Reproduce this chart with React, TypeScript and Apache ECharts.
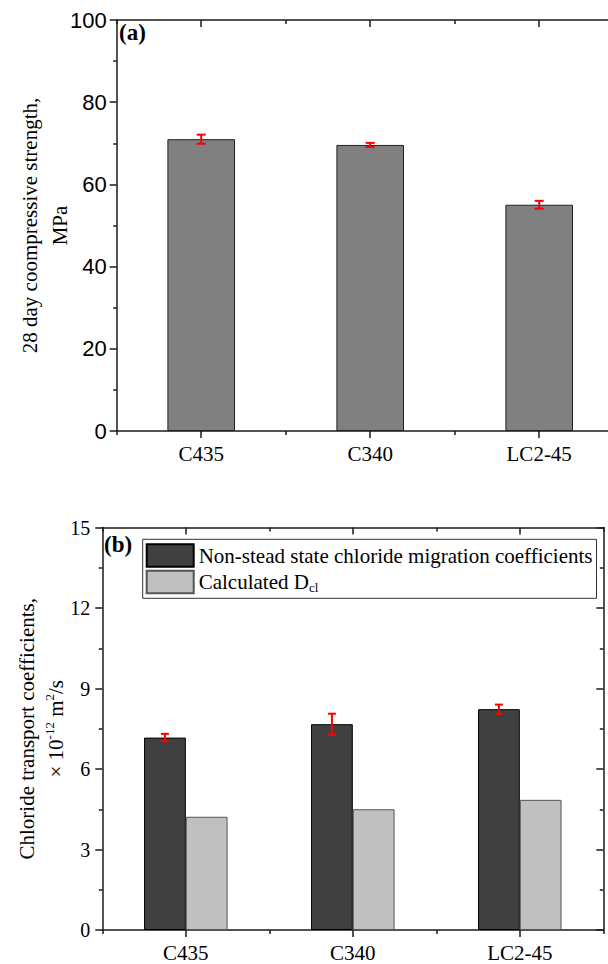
import React, { useEffect, useRef } from 'react';
import * as echarts from 'echarts';

const categories = ['C435', 'C340', 'LC2-45'];
const strength = [71.0, 69.6, 55.05];
const strengthErr = [1.1, 0.5, 0.95];
const nssm = [7.17, 7.67, 8.23];
const nssmErr = [0.14, 0.39, 0.17];
const dcl = [4.22, 4.5, 4.85];
const seriesNames = ['Non-stead state chloride migration coefficients', 'Calculated Dcl'];
const rangeA = { min: 0, max: 100, interval: 20 };
const rangeB = { min: 0, max: 15, interval: 3 };

const SERIF = "'Liberation Serif', 'Times New Roman', serif";
const SANS = "'Liberation Sans', Arial, sans-serif";
const AXIS_COLOR = '#1a1a1a';

function frameX(gridIndex: number, position: 'top' | 'bottom', major: boolean, withLine: boolean, withLabel: boolean) {
  return {
    type: 'category',
    gridIndex,
    position,
    data: categories,
    axisLine: { show: withLine, onZero: false, lineStyle: { color: AXIS_COLOR, width: 1.5 } },
    axisTick: {
      show: true,
      alignWithLabel: major,
      inside: position === 'top',
      length: major ? 7 : 4,
      lineStyle: { color: AXIS_COLOR, width: 1.5 },
    },
    axisLabel: {
      show: withLabel,
      fontFamily: SERIF,
      fontSize: 21,
      color: '#000',
      margin: 12,
    },
    splitLine: { show: false },
  };
}

function frameY(gridIndex: number, position: 'left' | 'right', range: any, label: any, name?: any) {
  return {
    type: 'value',
    gridIndex,
    position,
    min: range.min,
    max: range.max,
    interval: range.interval,
    axisLine: { show: true, onZero: false, lineStyle: { color: AXIS_COLOR, width: 1.5 } },
    axisTick: { show: true, inside: position === 'right', length: 7, lineStyle: { color: AXIS_COLOR, width: 1.5 } },
    minorTick: { show: true, splitNumber: 2, length: 3.5, lineStyle: { color: AXIS_COLOR, width: 1.5 } },
    axisLabel: label,
    splitLine: { show: false },
    ...(name || {}),
  };
}

function errorSeries(xAxisIndex: number, yAxisIndex: number, values: number[], errs: number[], offsetFrac: number, capHalf: number) {
  return {
    type: 'custom',
    xAxisIndex,
    yAxisIndex,
    silent: true,
    z: 10,
    data: values.map((v, i) => [i, v - errs[i], v + errs[i]]),
    encode: { x: 0, y: [1, 2] },
    renderItem: (params: any, api: any) => {
      const idx = api.value(0);
      const lo = api.coord([idx, api.value(1)]);
      const hi = api.coord([idx, api.value(2)]);
      const band = api.size([1, 0])[0];
      const cx = lo[0] + band * offsetFrac;
      const style = { stroke: '#ff0000', lineWidth: 2 };
      return {
        type: 'group',
        children: [
          { type: 'line', shape: { x1: cx, y1: lo[1], x2: cx, y2: hi[1] }, style },
          { type: 'line', shape: { x1: cx - capHalf, y1: lo[1], x2: cx + capHalf, y2: lo[1] }, style },
          { type: 'line', shape: { x1: cx - capHalf, y1: hi[1], x2: cx + capHalf, y2: hi[1] }, style },
        ],
      };
    },
  };
}

export default function App() {
  const ref = useRef<HTMLDivElement>(null);

  useEffect(() => {
    if (!ref.current) return;
    const chart = echarts.init(ref.current, null, { renderer: 'svg' });

    const option: any = {
      animation: false,
      backgroundColor: '#ffffff',
      grid: [
        { left: 116.7, top: 20, width: 507, height: 411, containLabel: false, outerBoundsMode: 'none', show: false },
        { left: 102.3, top: 527.5, width: 501, height: 402.5, containLabel: false, outerBoundsMode: 'none', show: false },
      ],
      xAxis: [
        frameX(0, 'bottom', true, true, true),
        frameX(0, 'bottom', false, false, false),
        frameX(0, 'top', true, true, false),
        frameX(0, 'top', false, false, false),
        frameX(1, 'bottom', true, true, true),
        frameX(1, 'bottom', false, false, false),
        frameX(1, 'top', true, true, false),
        frameX(1, 'top', false, false, false),
      ],
      yAxis: [
        frameY(0, 'left', rangeA, { show: true, fontFamily: SANS, fontSize: 22, color: '#000', margin: 10 }, {
          name: '28 day coompressive strength,\nMPa',
          nameLocation: 'middle',
          nameRotate: 90,
          nameGap: 42,
          nameMoveOverlap: false,
          nameTextStyle: { fontFamily: SERIF, fontSize: 21, color: '#000', lineHeight: 30 },
        }),
        frameY(1, 'left', rangeB, { show: true, fontFamily: SERIF, fontSize: 20, color: '#000', margin: 12 }, {
          name: '{n|Chloride transport coefficients,}\n{n|\u00d7 10}{sup|-12}{n| m}{sup|2}{n|/s}',
          nameLocation: 'middle',
          nameRotate: 90,
          nameGap: 32,
          nameMoveOverlap: false,
          nameTextStyle: {
            fontFamily: SERIF,
            fontSize: 21,
            color: '#000',
            lineHeight: 29,
            rich: {
              n: { fontFamily: SERIF, fontSize: 21, color: '#000', lineHeight: 29, verticalAlign: 'middle' },
              sup: { fontFamily: SERIF, fontSize: 13, color: '#000', lineHeight: 13, verticalAlign: 'middle', padding: [0, 0, 12, 0] },
            },
          },
        }),
        frameY(1, 'right', rangeB, { show: false }),
      ],
      legend: {
        show: true,
        data: seriesNames,
        orient: 'vertical',
        left: 142.7,
        top: 539.3,
        itemWidth: 47,
        itemHeight: 22.5,
        itemGap: 2,
        padding: [4, 4, 4, 3],
        borderColor: '#333',
        borderWidth: 1,
        borderRadius: 0,
        selectedMode: false,
        icon: 'rect',
        formatter: (name: string) => (name === seriesNames[1] ? '{n|Calculated D}{sub|cl}' : `{n|${name}}`),
        textStyle: {
          fontFamily: SERIF,
          fontSize: 21,
          color: '#000',
          rich: {
            n: { fontFamily: SERIF, fontSize: 21, color: '#000', lineHeight: 22, verticalAlign: 'middle' },
            sub: { fontFamily: SERIF, fontSize: 13, color: '#000', lineHeight: 13, verticalAlign: 'middle', padding: [11, 0, 0, 0] },
          },
        },
      },
      graphic: [
        {
          type: 'text',
          left: 119,
          top: 21,
          style: { text: '(a)', font: `bold 23px ${SERIF}`, fill: '#000' },
          z: 20,
        },
        {
          type: 'text',
          left: 104,
          top: 533,
          style: { text: '(b)', font: `bold 23px ${SERIF}`, fill: '#000' },
          z: 20,
        },
      ],
      series: [
        {
          type: 'bar',
          name: '28 day compressive strength',
          xAxisIndex: 0,
          yAxisIndex: 0,
          data: strength,
          barWidth: '40%',
          itemStyle: { color: '#808080', borderColor: '#222', borderWidth: 1 },
        },
        errorSeries(0, 0, strength, strengthErr, 0, 4.5),
        {
          type: 'bar',
          name: seriesNames[0],
          xAxisIndex: 4,
          yAxisIndex: 1,
          data: nssm,
          barWidth: '25%',
          barGap: '0%',
          itemStyle: { color: '#404040', borderColor: '#000', borderWidth: 1 },
        },
        {
          type: 'bar',
          name: seriesNames[1],
          xAxisIndex: 4,
          yAxisIndex: 1,
          data: dcl,
          barWidth: '25%',
          barGap: '0%',
          itemStyle: { color: '#c0c0c0', borderColor: '#555', borderWidth: 1 },
        },
        errorSeries(4, 1, nssm, nssmErr, -0.125, 4),
      ],
    };

    chart.setOption(option);
    return () => {
      chart.dispose();
    };
  }, []);

  return (
    <div
      ref={ref}
      style={{ position: 'absolute', left: 0, top: 0, width: 608, height: 964, background: '#fff' }}
    />
  );
}
